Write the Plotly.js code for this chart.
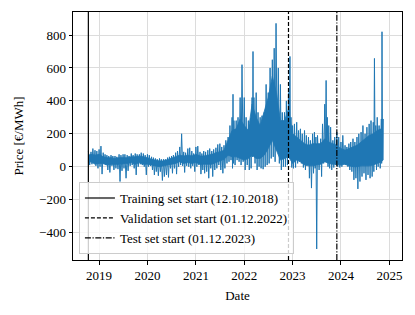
<!DOCTYPE html>
<html><head><meta charset="utf-8">
<script src="https://cdn.plot.ly/plotly-3.0.1.min.js"></script>
<style>html,body{margin:0;padding:0;background:#fff}</style>
</head><body><div id="chart" style="width:415px;height:315px"></div>
<script>
// Dense body of the hourly price series: upper and lower edge per month (EUR/MWh)
const bodyDates = [
'2018-10-12','2018-11-01','2018-12-01','2019-01-01','2019-02-01','2019-03-01','2019-04-01','2019-05-01','2019-06-01','2019-07-01','2019-08-01','2019-09-01','2019-10-01','2019-11-01','2019-12-01',
'2020-01-01','2020-02-01','2020-03-01','2020-04-01','2020-05-01','2020-06-01','2020-07-01','2020-08-01','2020-09-01','2020-10-01','2020-11-01','2020-12-01',
'2021-01-01','2021-02-01','2021-03-01','2021-04-01','2021-05-01','2021-06-01','2021-07-01','2021-08-01','2021-09-01','2021-10-01','2021-11-01','2021-12-01',
'2022-01-01','2022-02-01','2022-03-01','2022-04-01','2022-05-01','2022-06-01','2022-07-01','2022-08-01','2022-09-01','2022-10-01','2022-11-01','2022-12-01',
'2023-01-01','2023-02-01','2023-03-01','2023-04-01','2023-05-01','2023-06-01','2023-07-01','2023-08-01','2023-09-01','2023-10-01','2023-11-01','2023-12-01',
'2024-01-01','2024-02-01','2024-03-01','2024-04-01','2024-05-01','2024-06-01','2024-07-01','2024-08-01','2024-09-01','2024-10-01','2024-11-01','2024-11-14'
];
const bodyHigh = [
70,75,70,75,60,55,55,50,55,55,55,60,60,65,60,
55,45,40,35,35,45,50,60,70,65,70,65,
75,65,65,70,75,85,90,100,160,220,230,290,
250,220,380,300,250,330,420,550,450,280,280,350,
200,180,160,140,130,140,140,140,170,150,140,130,
110,100,110,120,130,150,170,190,200,220,230,220
];
const bodyLow = [
25,30,15,20,20,10,15,15,15,20,20,25,15,25,15,
15,10,5,0,5,10,15,20,30,20,25,20,
25,15,15,15,15,25,35,45,70,60,60,50,
40,50,70,50,50,70,110,160,100,40,50,60,
20,40,30,10,5,5,10,15,30,20,15,15,
10,15,5,0,0,5,5,5,10,20,30,40
];

// Highest and lowest hourly price per half-month period (EUR/MWh)
const periodStart = [
'2018-10-12','2018-11-01','2018-11-15','2018-12-01','2018-12-15',
'2019-01-01','2019-01-15','2019-02-01','2019-02-15','2019-03-01','2019-03-15','2019-04-01','2019-04-15','2019-05-01','2019-05-15','2019-06-01','2019-06-15','2019-07-01','2019-07-15','2019-08-01','2019-08-15','2019-09-01','2019-09-15','2019-10-01','2019-10-15','2019-11-01','2019-11-15','2019-12-01','2019-12-15',
'2020-01-01','2020-01-15','2020-02-01','2020-02-15','2020-03-01','2020-03-15','2020-04-01','2020-04-15','2020-05-01','2020-05-15','2020-06-01','2020-06-15','2020-07-01','2020-07-15','2020-08-01','2020-08-15','2020-09-01','2020-09-15','2020-10-01','2020-10-15','2020-11-01','2020-11-15','2020-12-01','2020-12-15',
'2021-01-01','2021-01-15','2021-02-01','2021-02-15','2021-03-01','2021-03-15','2021-04-01','2021-04-15','2021-05-01','2021-05-15','2021-06-01','2021-06-15','2021-07-01','2021-07-15','2021-08-01','2021-08-15','2021-09-01','2021-09-15','2021-10-01','2021-10-08','2021-10-15','2021-11-01','2021-11-15','2021-12-01','2021-12-15',
'2022-01-01','2022-01-15','2022-02-01','2022-02-15','2022-03-01','2022-03-08','2022-03-15','2022-04-01','2022-04-15','2022-05-01','2022-05-15','2022-06-01','2022-06-15','2022-07-01','2022-07-15','2022-08-01','2022-08-15','2022-08-29','2022-09-15','2022-10-01','2022-10-15','2022-11-01','2022-11-15','2022-12-01','2022-12-12','2022-12-20',
'2023-01-01','2023-01-15','2023-02-01','2023-02-15','2023-03-01','2023-03-15','2023-04-01','2023-04-15','2023-05-01','2023-05-15','2023-06-01','2023-06-15','2023-06-26','2023-07-08','2023-08-01','2023-08-15','2023-09-01','2023-09-11','2023-09-20','2023-10-01','2023-10-15','2023-11-01','2023-11-15','2023-12-01','2023-12-15',
'2024-01-01','2024-01-15','2024-02-01','2024-02-15','2024-03-01','2024-03-15','2024-04-01','2024-04-15','2024-05-01','2024-05-15','2024-06-01','2024-06-15','2024-07-01','2024-07-15','2024-08-01','2024-08-15','2024-09-01','2024-09-10','2024-09-20','2024-10-01','2024-10-15','2024-11-01','2024-11-06','2024-11-14'
];
const priceHigh = [
95,90,110,100,95,
105,125,85,75,70,65,70,65,65,60,75,70,75,75,70,65,80,70,80,75,75,85,80,70,
75,70,60,55,50,45,50,45,45,45,55,60,65,70,85,95,120,200,90,85,110,115,95,80,
120,125,90,80,95,90,100,110,95,105,115,135,140,120,130,160,180,250,300,440,280,280,300,420,620,
420,300,280,260,420,700,420,450,330,300,310,330,500,450,600,650,720,871,600,500,330,330,400,450,670,300,
250,260,270,220,230,200,220,190,180,160,200,210,180,190,170,260,380,524,300,250,240,160,180,210,180,
150,190,130,120,140,150,170,150,180,200,210,250,200,240,260,280,270,658,250,300,250,290,820,290
];
const priceLow = [
10,15,25,5,-10,
0,-45,15,10,-20,-35,5,-20,-10,-15,-90,-25,-10,-70,-25,5,10,-10,-50,0,15,10,0,-50,
0,5,-20,-50,-30,-55,-30,-84,-60,-50,-65,-10,-40,-10,-45,0,10,5,-35,5,0,-10,5,-30,
0,10,-45,-20,-40,-30,-70,-10,-60,-20,-10,10,-20,-40,-10,20,30,40,-10,20,10,40,30,10,30,
-20,10,-20,-10,60,80,20,-20,0,-10,-15,0,10,20,50,60,30,100,20,-20,0,0,10,70,100,-5,
-10,-5,20,30,20,-5,-20,10,-70,-130,-40,-10,-500,-20,-60,20,30,50,0,-10,-20,-5,10,0,-5,
0,20,10,0,-20,-30,-80,-70,-135,-90,-60,-40,-80,-50,-70,-60,-30,20,-20,0,-10,20,40,40
];
const dataEnd = '2024-11-14';

const splitNames = ['Training set start (12.10.2018)','Validation set start (01.12.2022)','Test set start (01.12.2023)'];
const splitDates = ['2018-10-12','2022-12-01','2023-12-01'];
const splitDash = ['solid','4px,2px','6px,1.6px,1.2px,1.6px'];

function fmt(ms){ return new Date(ms).toISOString().slice(0,19).replace('T',' '); }
const xs = [], ys = [];
for (let i = 0; i < periodStart.length; i++) {
  const t0 = new Date(periodStart[i] + 'T00:00:00Z').getTime();
  const t1 = new Date((i + 1 < periodStart.length ? periodStart[i+1] : dataEnd) + 'T00:00:00Z').getTime();
  xs.push(fmt(t0)); ys.push(priceHigh[i]);
  xs.push(fmt(t1 > t0 ? (t0 + t1) / 2 : t0)); ys.push(priceLow[i]);
}

const blue = '#1f77b4';
const font = 'Liberation Serif, Times New Roman, serif';
const fs = 13;
const traces = [
  {type: 'scatter', mode: 'lines', x: bodyDates, y: bodyLow, line: {color: blue, width: 0.8}, showlegend: false, hoverinfo: 'skip'},
  {type: 'scatter', mode: 'lines', x: bodyDates, y: bodyHigh, fill: 'tonexty', fillcolor: blue, line: {color: blue, width: 0.8}, showlegend: false, hoverinfo: 'skip'},
  {type: 'scatter', mode: 'lines', x: xs, y: ys, line: {color: blue, width: 1}, showlegend: false, hoverinfo: 'skip'}
];
for (let k = 0; k < splitDates.length; k++) {
  traces.push({
    type: 'scatter', mode: 'lines', x: [splitDates[k], splitDates[k]], y: [0, 1], yaxis: 'y2',
    name: splitNames[k], line: {color: '#000', width: 1.2, dash: splitDash[k]}
  });
}

const layout = {
  width: 415, height: 315,
  margin: {l: 73, r: 13, t: 12, b: 55},
  paper_bgcolor: '#fff', plot_bgcolor: '#fff',
  font: {family: font, size: fs, color: '#000'},
  xaxis: {
    type: 'date', range: ['2018-06-18', '2025-04-06'],
    tick0: '2019-01-01', dtick: 'M12', tickformat: '%Y',
    showgrid: true, gridcolor: '#dcdcdc', gridwidth: 1,
    showline: true, linecolor: '#000', linewidth: 1, mirror: true,
    ticks: 'outside', ticklen: 3.5, tickcolor: '#000', zeroline: false,
    title: {text: 'Date', font: {family: font, size: fs}, standoff: 8}
  },
  yaxis: {
    range: [-567, 940], tickvals: [-400, -200, 0, 200, 400, 600, 800],
    showgrid: true, gridcolor: '#dcdcdc', gridwidth: 1,
    showline: true, linecolor: '#000', linewidth: 1, mirror: true,
    ticks: 'outside', ticklen: 3.5, tickcolor: '#000', zeroline: false,
    title: {text: 'Price [€/MWh]', font: {family: font, size: fs}, standoff: 12}
  },
  yaxis2: {overlaying: 'y', range: [0, 1], visible: false, fixedrange: true},
  legend: {
    x: 0.018, y: 0.024, xanchor: 'left', yanchor: 'bottom', traceorder: 'normal',
    bgcolor: 'rgba(255,255,255,0.8)', bordercolor: '#cccccc', borderwidth: 1,
    font: {family: font, size: fs}, tracegroupgap: 0
  },
  showlegend: true
};
Plotly.newPlot('chart', traces, layout, {staticPlot: true, displayModeBar: false});
</script></body></html>
